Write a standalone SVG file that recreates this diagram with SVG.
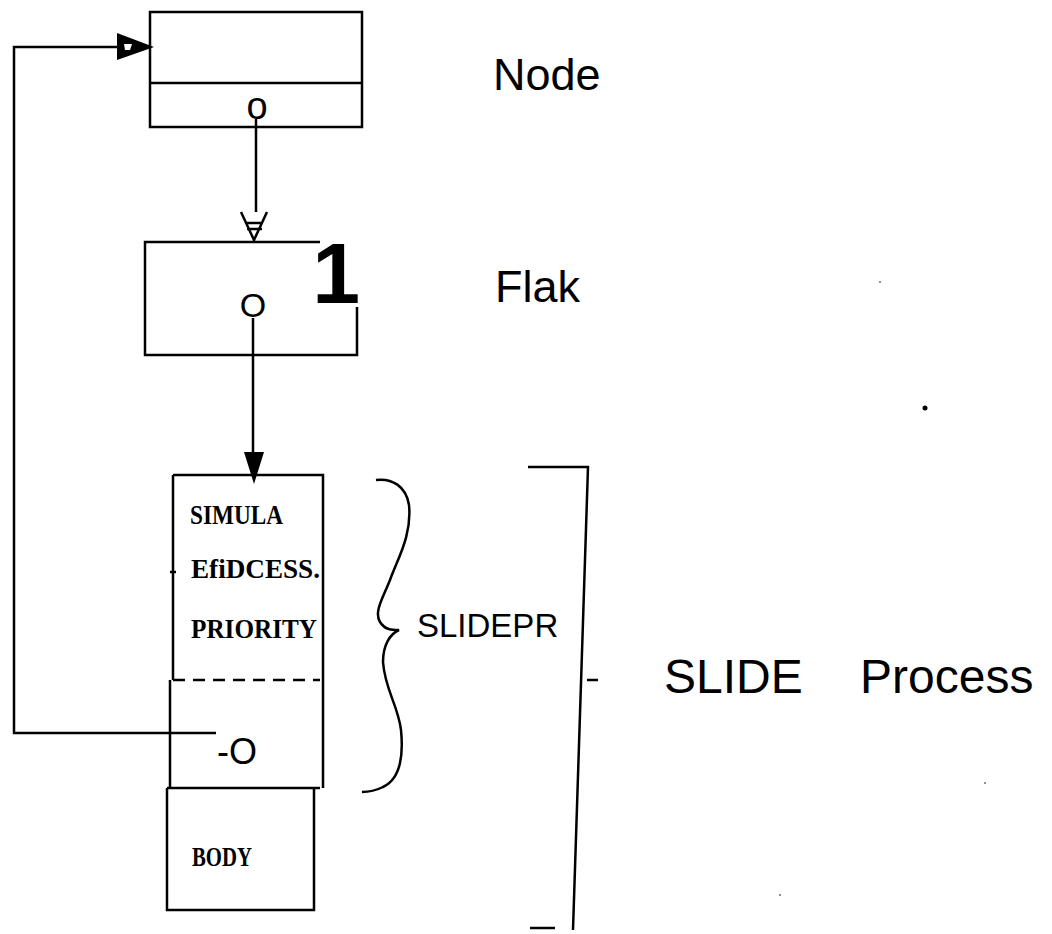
<svg xmlns="http://www.w3.org/2000/svg" width="1052" height="934" viewBox="0 0 1052 934">
<style>
.ln{fill:none;stroke:#000;stroke-width:2.5;stroke-linejoin:miter}
.sans{font-family:"Liberation Sans",Arial,sans-serif;fill:#000}
.serif{font-family:"Liberation Serif","Times New Roman",serif;font-weight:bold;fill:#000}
</style>
<rect width="1052" height="934" fill="#fff"/>
<g id="connectors">
<path class="ln" d="M216,733 H14 V47 H130"/>
<path d="M117,33 L154,47 L117,60 Z" fill="#000"/>
<path d="M124,44 L132,44 L130,50 L125,50 Z" fill="#fff"/>
<path class="ln" d="M256,119 V212"/>
<path class="ln" stroke-width="3" d="M241,212 L254,240 L267,212 M247,223 H262 M247,229 H262 M254,238 V243"/>
<path class="ln" d="M253,318 V458"/>
<path d="M244,452 L254,484 L264,452 Z" fill="#000"/>
</g>
<g id="node">
<rect class="ln" x="150" y="12" width="212" height="115"/>
<path class="ln" d="M150,83 H362"/>
<text class="sans" x="257" y="119" font-size="38" text-anchor="middle">o</text>
<text class="sans" x="493" y="90" font-size="45">Node</text>
</g>
<g id="flak">
<path class="ln" d="M320,242 H145 V355 H357 V307"/>
<text class="sans" x="253" y="317" font-size="34" text-anchor="middle">O</text>
<text class="sans" x="360" y="303" font-size="86" font-weight="bold" text-anchor="end">1</text>
<text class="sans" x="495" y="302" font-size="45">Flak</text>
</g>
<g id="process">
<path class="ln" d="M173,475 H323 V788"/>
<path class="ln" d="M173,475 V680 M170,680 V788"/>
<path class="ln" d="M170,572 H176"/>
<path class="ln" d="M173,680 H320" stroke-dasharray="12,8"/>
<path class="ln" d="M167,788 H320 M167,788 V910 H314 V788"/>
<text class="serif" x="190" y="524" font-size="28" textLength="93" lengthAdjust="spacingAndGlyphs">SIMULA</text>
<text class="serif" x="191" y="578" font-size="28" textLength="129" lengthAdjust="spacingAndGlyphs">EfiDCESS.</text>
<text class="serif" x="191" y="638" font-size="28" textLength="126" lengthAdjust="spacingAndGlyphs">PRIORITY</text>
<text class="sans" x="217" y="764" font-size="36">-O</text>
<text class="serif" x="192" y="866" font-size="28" textLength="60" lengthAdjust="spacingAndGlyphs">BODY</text>
</g>
<g id="slidepr">
<path class="ln" stroke-width="2" d="M376,480 C392,478 406,486 409,505 C412,535 398,558 390,580 C382,600 374,612 380,622 C385,630 392,630 399,630 C390,634 383,645 383,662 C385,690 398,705 401,730 C404,760 398,780 383,787 C375,791 368,792 362,792"/>
<text class="sans" x="417" y="637" font-size="33">SLIDEPR</text>
</g>
<g id="slide-process">
<path class="ln" d="M528,467 H588 L573,930"/>
<path class="ln" d="M530,928 H555"/>
<path class="ln" stroke-width="3" d="M587,680 H598"/>
<text class="sans" x="664" y="693" font-size="48">SLIDE</text>
<text class="sans" x="860" y="693" font-size="48">Process</text>
</g>
<g id="specks" fill="#000">
<circle cx="880" cy="282" r="0.8"/>
<circle cx="925" cy="408" r="2.5"/>
<circle cx="985" cy="783" r="0.8"/>
<circle cx="780" cy="895" r="0.8"/>
</g>
</svg>
